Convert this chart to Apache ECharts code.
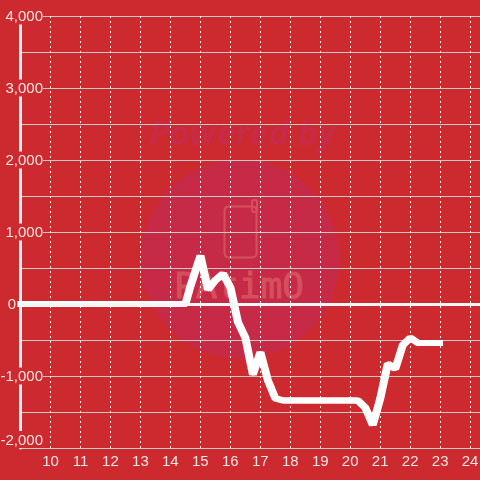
<!DOCTYPE html>
<html>
<head>
<meta charset="utf-8">
<style>
html, body { margin: 0; padding: 0; background: #cc2a2f; }
#main { width: 480px; height: 480px; }
</style>
<script src="https://cdn.jsdelivr.net/npm/echarts@6/dist/echarts.min.js"></script>
</head>
<body>
<div id="main"></div>
<script>
var hours = [8.9, 14.47, 14.63, 14.97, 15.22, 15.47, 15.72, 15.97, 16.22, 16.47, 16.72, 16.97, 17.22, 17.47, 17.72, 20.22, 20.47, 20.72, 20.97, 21.22, 21.47, 21.72, 21.97, 22.22, 22.47, 23.03];
var values = [0, 0, 240, 670, 200, 330, 420, 230, -250, -470, -980, -670, -1060, -1310, -1340, -1340, -1440, -1680, -1310, -830, -900, -570, -470, -540, -540, -540];
var bg = "#cc2a2f";
var labelColor = "#f3e6e6";

var chart = echarts.init(document.getElementById("main"));
chart.setOption({
  animation: false,
  backgroundColor: bg,
  textStyle: { fontFamily: "Liberation Sans" },
  grid: { left: 20.5, right: 0, top: 16, bottom: 32, outerBoundsMode: "none" },
  xAxis: {
    type: "value",
    min: 9,
    max: 24.33,
    interval: 1,
    axisLine: { show: false },
    axisTick: { show: false },
    axisLabel: {
      color: labelColor,
      fontSize: 15,
      margin: 6,
      showMinLabel: false,
      showMaxLabel: false,
      formatter: function (v) { return v >= 10 && v <= 24 ? String(v) : ""; }
    },
    splitLine: { lineStyle: { color: "#eef0ee", type: [2, 3], width: 1 } }
  },
  yAxis: {
    type: "value",
    min: -2000,
    max: 4000,
    interval: 500,
    axisLine: { show: true, onZero: false, lineStyle: { color: "#f2f2f2", width: 3 } },
    axisTick: { show: false },
    axisLabel: {
      margin: -22.5,
      verticalAlignMinLabel: "bottom",
      formatter: function (v) {
        if (v === 0) return "{z|0}";
        return v % 1000 === 0 ? "{a|" + v.toLocaleString("en-US") + "}" : "";
      },
      rich: {
        a: { color: labelColor, fontSize: 15, backgroundColor: bg, padding: [2, 0, 0, 0] },
        z: { color: labelColor, fontSize: 15, padding: [2, 27, 0, 0] }
      }
    },
    splitLine: { lineStyle: { color: "#c9c9c6", width: 1 } }
  },
  graphic: [
    { type: "circle", z: -1, shape: { cx: 240, cy: 259, r: 99.5 }, style: { fill: "#c72a47" } },
    { type: "text", z: -1, x: 242, y: 135, style: { text: "Powered by", fill: "#c82b48", font: "italic bold 34px 'Open Sans'", align: "center", verticalAlign: "middle" } },
    { type: "rect", z: -1, shape: { x: 224.5, y: 206.5, width: 32, height: 51, r: 4 }, style: { fill: "none", stroke: "#d5505c", lineWidth: 2 } },
    { type: "rect", z: -1, shape: { x: 252, y: 200, width: 5, height: 12, r: 2 }, style: { fill: "none", stroke: "#d5505c", lineWidth: 2 } },
    { type: "text", z: -1, x: 239, y: 289, style: { text: "PAtimO", fill: "#d5505c", stroke: "#d5505c", lineWidth: 1, font: "36px 'DejaVu Sans Mono'", align: "center", verticalAlign: "middle" } }
  ],
  series: [
    {
      type: "line",
      clip: false,
      data: hours.map(function (h, i) { return [h, values[i]]; }),
      showSymbol: false,
      lineStyle: { color: "#ffffff", width: 6, join: "bevel", cap: "butt", shadowColor: "#ffffff", shadowBlur: 0, shadowOffsetX: 2 },
      markLine: {
        silent: true,
        symbol: "none",
        label: { show: false },
        lineStyle: { color: "#f5f5f5", width: 3, type: "solid" },
        data: [{ yAxis: 0 }]
      }
    }
  ]
});
</script>
</body>
</html>
